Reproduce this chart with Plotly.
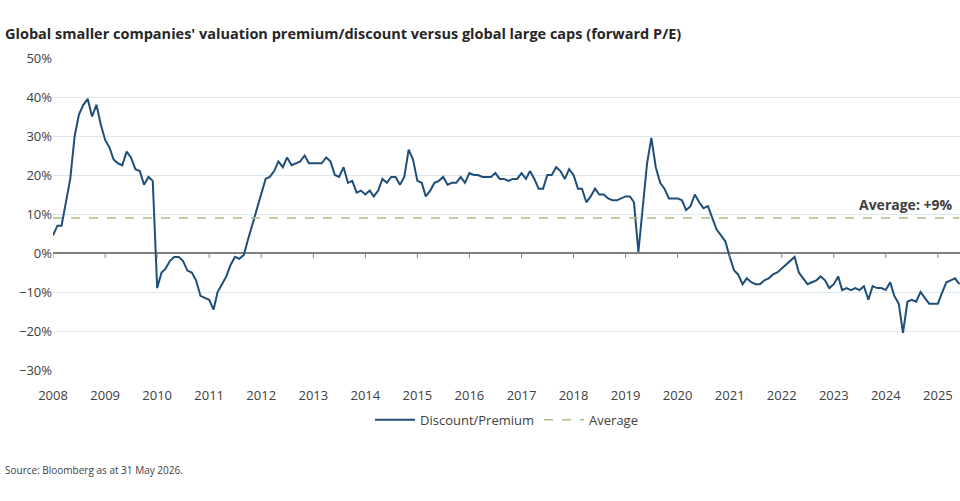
import plotly.graph_objects as go
import pandas as pd

years = list(range(2008, 2026))
v2008 = [4.5, 7, 7, 13, 19, 30, 35.5, 38, 39.5, 35, 38, 33]
v2009 = [29, 27, 24, 23, 22.5, 26, 24.5, 21.5, 21, 17.5, 19.5, 18.5]
v2010 = [-9, -5, -4, -2, -1, -1, -2, -4.5, -5, -7, -11, -11.5]
v2011 = [-12, -14.5, -10, -8, -6, -3, -1, -1.5, -0.5, 3.5, 7.5, 11]
v2012 = [15, 19, 19.5, 21, 23.5, 22, 24.5, 22.5, 23, 23.5, 25, 23]
v2013 = [23, 23, 23, 24.5, 23.5, 20, 19.5, 22, 18, 18.5, 15.5, 16]
v2014 = [15, 16, 14.5, 16, 19, 18, 19.5, 19.5, 17.5, 19.5, 26.5, 24]
v2015 = [18.5, 18, 14.5, 16, 18, 18.5, 19.5, 17.5, 18, 18, 19.5, 18]
v2016 = [20.5, 20, 20, 19.5, 19.5, 19.5, 20.5, 19, 19, 18.5, 19, 19]
v2017 = [20.5, 19, 21, 19, 16.5, 16.5, 20, 20, 22, 21, 19, 21.5]
v2018 = [20, 16.5, 16.5, 13, 14.5, 16.5, 15, 15, 14, 13.5, 13.5, 14]
v2019 = [14.5, 14.5, 13, 0.3, 11, 23, 29.5, 22, 18, 16.5, 14, 14]
v2020 = [14, 13.5, 11, 12, 15, 13, 11.5, 12, 9, 6, 4.5, 3]
v2021 = [-1, -4.5, -5.5, -8, -6.5, -7.5, -8, -8, -7, -6.5, -5.5, -5]
v2022 = [-4, -3, -2, -1, -5, -6.5, -8, -7.5, -7, -6, -7, -9]
v2023 = [-8, -6, -9.5, -9, -9.5, -9, -9.5, -8.5, -12, -8.5, -9, -9]
v2024 = [-9.5, -7.5, -11, -13, -20.5, -12.5, -12, -12.5, -10, -11.5, -13, -13]
v2025 = [-13, -10, -7.5, -7, -6.5, -8]
values = (v2008 + v2009 + v2010 + v2011 + v2012 + v2013 + v2014 + v2015 + v2016
          + v2017 + v2018 + v2019 + v2020 + v2021 + v2022 + v2023 + v2024 + v2025)
dates = pd.date_range("2008-01-01", periods=len(values), freq="MS")
average = 9

fig = go.Figure()
fig.add_trace(go.Scatter(x=dates, y=values, mode="lines", name="Discount/Premium",
                         line=dict(color="#1f4e79", width=2)))
fig.add_trace(go.Scatter(x=[dates[0], dates[-1]], y=[average, average], mode="lines",
                         name="Average", line=dict(color="#a8bf86", width=1.5, dash="dash")))

for y in years:
    fig.add_shape(type="line", xref="x", yref="y", x0=f"{y}-01-01", x1=f"{y}-01-01",
                  y0=0, y1=-1.3, line=dict(color="#808080", width=1))

fig.add_annotation(x=0.995, xref="paper", y=average, yref="y", text="<b>Average: +9%</b>",
                   showarrow=False, xanchor="right", yanchor="bottom", yshift=2,
                   font=dict(size=14, color="#404040"))
fig.add_annotation(x=-0.055, xref="paper", y=1.08, yref="paper", yanchor="middle",
                   text="<b>Global smaller companies' valuation premium/discount versus global large caps (forward P/E)</b>",
                   showarrow=False, xanchor="left", font=dict(size=14.5, color="#262626"))
fig.add_annotation(x=-0.055, xref="paper", y=-0.32, yref="paper",
                   text="Source: Bloomberg as at 31 May 2026.", showarrow=False,
                   xanchor="left", yanchor="middle", font=dict(size=10, color="#404040"))

fig.update_layout(
    width=960, height=501, margin=dict(l=53, r=0, t=58, b=131, autoexpand=False),
    plot_bgcolor="white", paper_bgcolor="white",
    font=dict(family="Open Sans", size=13, color="#404040"),
    showlegend=True,
    legend=dict(orientation="h", x=0.5, xanchor="center", y=-0.16, yanchor="middle",
                font=dict(size=13), itemwidth=40),
    xaxis=dict(range=["2008-01-01", "2025-06-05"], tickvals=[f"{y}-01-01" for y in years],
               ticktext=[str(y) for y in years], showgrid=False, zeroline=False,
               showline=False, ticks="", automargin=False, ticklabelstandoff=16),
    yaxis=dict(range=[-30, 50], dtick=10, ticksuffix="%", gridcolor="#dde8ee",
               zeroline=True, zerolinecolor="#808080", zerolinewidth=1.5,
               showline=False, ticks="", automargin=False),
)
fig.write_html("out.html", config={"displayModeBar": False})
with open("out.html", encoding="utf-8") as f:
    html = f.read()
html = html.replace("<head>", "<head><style>html,body{margin:0;padding:0;overflow:hidden}</style>", 1)
with open("out.html", "w", encoding="utf-8") as f:
    f.write(html)
